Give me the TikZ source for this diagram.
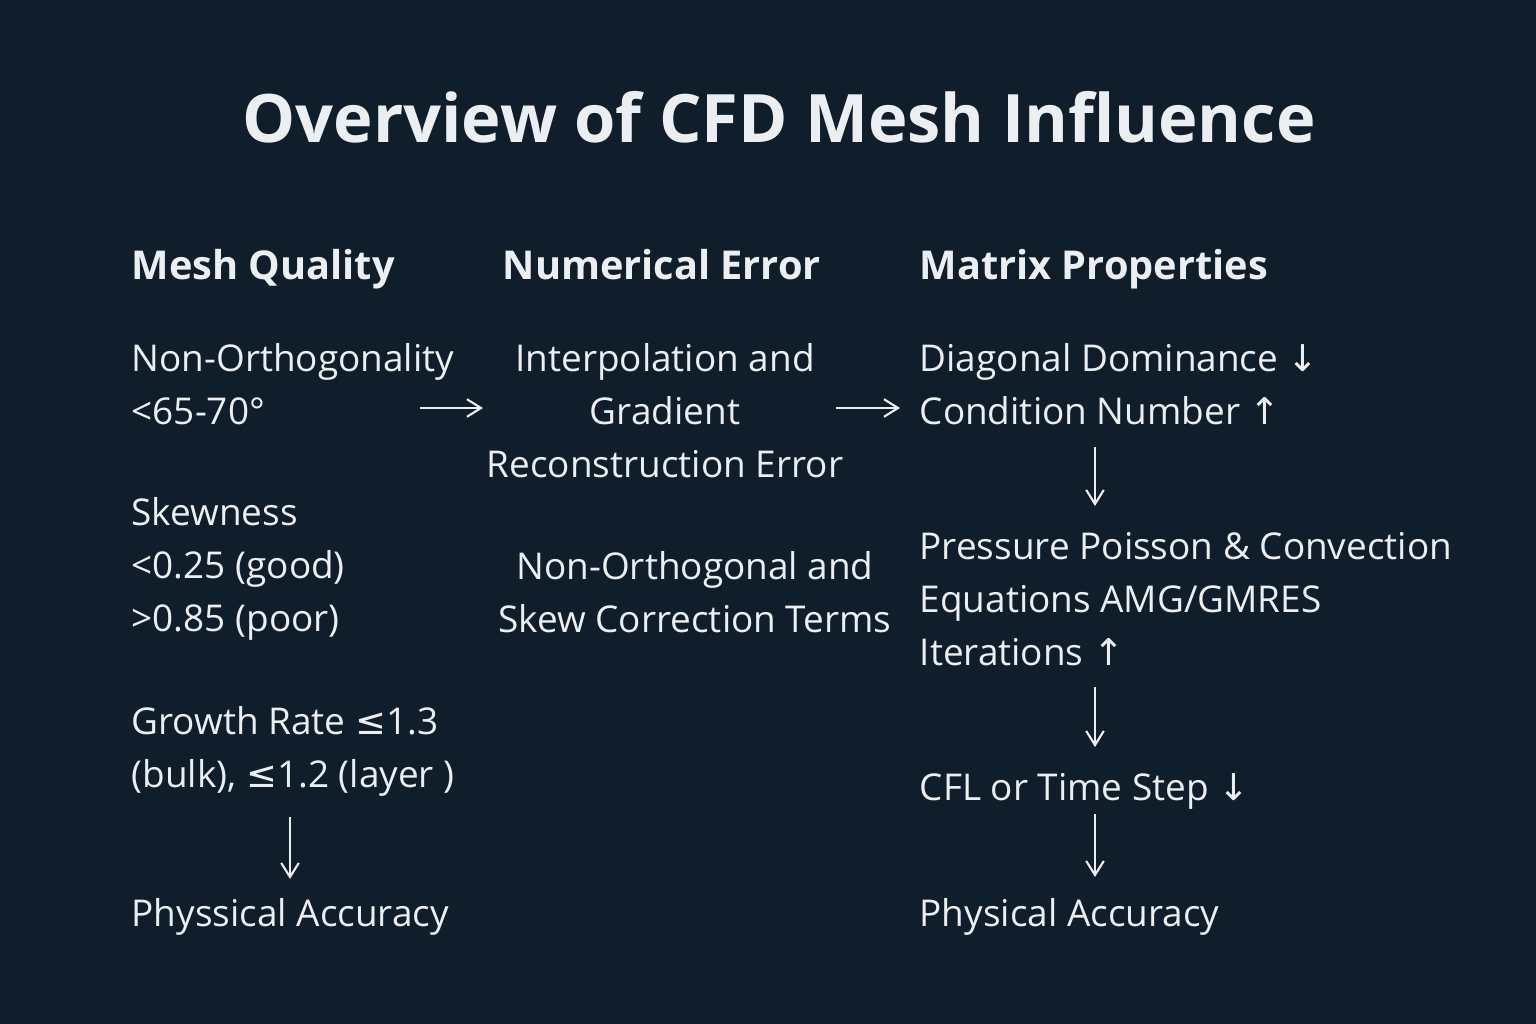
\documentclass[tikz,border=0pt]{standalone}
\usepackage{fontspec}
\setmainfont{Open Sans}
\newfontfamily\arrowfont{DejaVu Sans}
\usetikzlibrary{arrows.meta}
\definecolor{bgnavy}{RGB}{16,29,43}
\definecolor{inkwhite}{RGB}{236,239,242}
\newcommand{\dnarr}{{\arrowfont ↓}}
\newcommand{\uparr}{{\arrowfont ↑}}
\newcommand{\leqs}{{\arrowfont ≤}}
\begin{document}
\begin{tikzpicture}[x=0.01cm, y=-0.01cm,
    body/.style={text=inkwhite, font=\fontsize{10.5}{15}\selectfont, inner sep=0pt},
    head/.style={text=inkwhite, font=\fontsize{11.3}{15}\selectfont\bfseries, inner sep=0pt, anchor=base west},
    link/.style={draw=inkwhite, line width=0.6pt, -{Straight Barb[length=4pt,width=5pt]}}]
          \fill[bgnavy] (0,0) rectangle (1536,1024);
          \useasboundingbox (0,0) rectangle (1536,1024);

          % title
          \node[text=inkwhite, font=\fontsize{19}{24}\selectfont\bfseries, inner sep=0pt, anchor=base] at (779,143)
          (title) {Overview of CFD Mesh Influence};

          % headers
          \node[head] at (131,279) (quality) {Mesh Quality};
          \node[head] at (502,279) (numerr) {Numerical Error};
          \node[head] at (919,279) (matrix) {Matrix Properties};

          % nodes (anchored on the baseline of their last line)
          \node[body, anchor=base west, align=left] at (131,424)
          (nonorth) {Non-Orthogonality\\<65-70°};
          \node[body, anchor=base west, align=left] at (131,631)
          (skew) {Skewness\\<0.25 (good)\\>0.85 (poor)};
          \node[body, anchor=base west, align=left] at (131,787)
          (growth) {Growth Rate \leqs1.3\\(bulk), \leqs1.2 (layer )};
          \node[body, anchor=base west] at (131,926)
          (physA) {Physsical Accuracy};
          \node[body, anchor=base, align=center] at (665,477)
          (interp) {Interpolation and\\Gradient\\Reconstruction Error};
          \node[body, anchor=base, align=center] at (695,632)
          (correct) {Non-Orthogonal and\\Skew Correction Terms};
          \node[body, anchor=base west, align=left] at (919,424)
          (diag) {Diagonal Dominance \dnarr\\Condition Number \uparr};
          \node[body, anchor=base west, align=left] at (919,665)
          (poisson) {Pressure Poisson \& Convection\\Equations AMG/GMRES\\Iterations \uparr};
          \node[body, anchor=base west] at (919,800)
          (cfl) {CFL or Time Step \dnarr};
          \node[body, anchor=base west] at (919,926)
          (physB) {Physical Accuracy};

          % arc ends
          \coordinate (qa) at (420,408);
          \coordinate (qb) at (483,408);
          \coordinate (na) at (836,408);
          \coordinate (nb) at (900,408);
          \coordinate (ga) at (290,817);
          \coordinate (gb) at (290,879);
          \coordinate (da) at (1095,447);
          \coordinate (db) at (1095,506);
          \coordinate (pa) at (1095,687);
          \coordinate (pb) at (1095,747);
          \coordinate (ca) at (1095,814);
          \coordinate (cb) at (1095,877);

          % arcs
          \draw[link] (qa) -- (qb);
          \draw[link] (na) -- (nb);
          \draw[link] (ga) -- (gb);
          \draw[link] (da) -- (db);
          \draw[link] (pa) -- (pb);
          \draw[link] (ca) -- (cb);
        \end{tikzpicture}
\end{document}
